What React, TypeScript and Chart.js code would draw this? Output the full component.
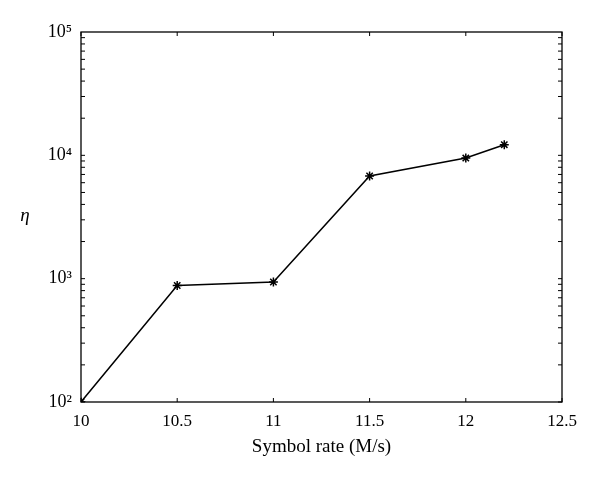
import React, { useEffect, useRef } from "react";
import { Chart, registerables } from "chart.js";

Chart.register(...registerables);

const symbolRate = [10, 10.5, 11, 11.5, 12, 12.2];
const eta = [100, 880, 940, 6800, 9500, 12200];
const xTicks = [10, 10.5, 11, 11.5, 12, 12.5];
const yMajor = [100, 1000, 10000, 100000];
const yMajorLabels = ["10²", "10³", "10⁴", "10⁵"];

const FONT = "'Liberation Serif', 'DejaVu Serif', serif";

const boxPlugin = {
  id: "boxPlugin",
  afterDraw(chart: any) {
    const { ctx, chartArea } = chart;
    const { left, right, top, bottom } = chartArea;
    const xs = chart.scales.x;
    const ys = chart.scales.y;
    ctx.save();
    ctx.strokeStyle = "#000";
    ctx.lineWidth = 1.3;
    ctx.strokeRect(left, top, right - left, bottom - top);
    ctx.lineWidth = 1;
    const tl = 4;
    ctx.beginPath();
    for (const v of xTicks) {
      const px = xs.getPixelForValue(v);
      ctx.moveTo(px, bottom);
      ctx.lineTo(px, bottom - tl);
      ctx.moveTo(px, top);
      ctx.lineTo(px, top + tl);
    }
    for (let e = 2; e < 5; e++) {
      for (let m = 1; m <= 9; m++) {
        const v = m * Math.pow(10, e);
        const py = ys.getPixelForValue(v);
        ctx.moveTo(left, py);
        ctx.lineTo(left + tl, py);
        ctx.moveTo(right, py);
        ctx.lineTo(right - tl, py);
      }
    }
    ctx.stroke();
    ctx.fillStyle = "#000";
    ctx.font = `italic 19px ${FONT}`;
    ctx.textAlign = "center";
    ctx.textBaseline = "middle";
    ctx.fillText("η", 25, 216);
    ctx.restore();
  },
};

export default function App() {
  const ref = useRef<HTMLCanvasElement>(null);
  useEffect(() => {
    const chart = new Chart(ref.current!, {
      type: "line",
      data: {
        datasets: [
          {
            data: symbolRate.map((x, i) => ({ x, y: eta[i] })),
            borderColor: "#000",
            backgroundColor: "#000",
            borderWidth: 1.5,
            pointStyle: "star",
            pointRadius: 4.5,
            pointBorderWidth: 1.5,
            pointBorderColor: "#000",
            tension: 0,
          },
        ],
      },
      options: {
        animation: false,
        responsive: false,
        layout: { padding: { left: 0, right: 38, top: 32, bottom: 0 } },
        plugins: { legend: { display: false }, tooltip: { enabled: false } },
        scales: {
          x: {
            type: "linear",
            min: 10,
            max: 12.5,
            grid: { display: false, drawTicks: false },
            border: { display: false },
            afterBuildTicks: (s: any) => {
              s.ticks = xTicks.map((v) => ({ value: v }));
            },
            afterFit: (s: any) => {
              s.height = 77;
            },
            ticks: {
              color: "#000",
              padding: 9,
              font: { family: FONT, size: 17 },
              callback: (v: any) => String(v),
            },
            title: {
              display: true,
              text: "Symbol rate (M/s)",
              color: "#000",
              font: { family: FONT, size: 19 },
              padding: { top: 0, bottom: 21 },
            },
          },
          y: {
            type: "logarithmic",
            min: 100,
            max: 100000,
            grid: { display: false, drawTicks: false },
            border: { display: false },
            afterBuildTicks: (s: any) => {
              s.ticks = yMajor.map((v) => ({ value: v }));
            },
            afterFit: (s: any) => {
              s.width = 81;
            },
            ticks: {
              color: "#000",
              padding: 9,
              autoSkip: false,
              font: { family: FONT, size: 18 },
              callback: (v: any) => {
                const i = yMajor.indexOf(Number(v));
                return i >= 0 ? yMajorLabels[i] : "";
              },
            },
          },
        },
      },
      plugins: [boxPlugin],
    });
    return () => chart.destroy();
  }, []);
  return (
    <div style={{ position: "fixed", left: 0, top: 0, width: 600, height: 479, background: "#fff" }}>
      <canvas ref={ref} width={600} height={479} style={{ width: 600, height: 479 }} />
    </div>
  );
}
